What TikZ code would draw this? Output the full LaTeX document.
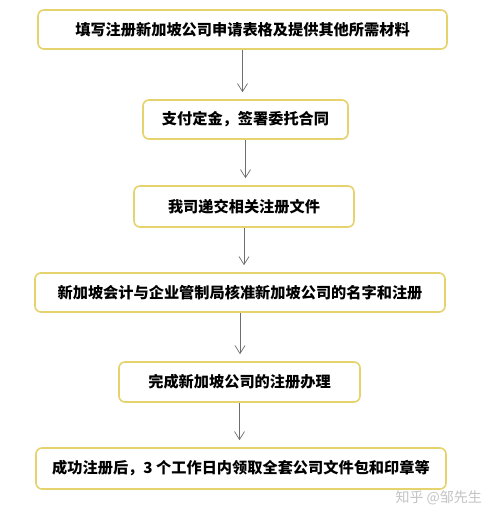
\documentclass[tikz,border=0pt]{standalone}
\usepackage{fontspec}
\setmainfont{Noto Sans CJK SC}
\usepackage{tikz}
\usetikzlibrary{arrows.meta}

\definecolor{boxline}{HTML}{E6D36E}
\definecolor{arrowgray}{HTML}{6E6E6E}
\definecolor{markgray}{HTML}{C4C4C4}

\begin{document}
\begin{tikzpicture}[x=1pt,y=-1pt,
        stepbox/.style={draw=boxline,line width=1.6pt,rounded corners=6pt,fill=white,
            inner sep=0pt,font=\fontsize{15.2}{18}\selectfont\bfseries},
        flow/.style={draw=arrowgray,line width=0.7pt,shorten >=7pt,
            -{Straight Barb[length=8pt,width=10pt,line width=0.7pt]}}]
        \useasboundingbox (0,0) rectangle (499,519);
        \fill[white] (0,0) rectangle (499,519);

        % the six steps
        \node[stepbox,minimum width=409pt,minimum height=39pt] (fill) at (242.5,29.5) {填写注册新加坡公司申请表格及提供其他所需材料};
        \node[stepbox,minimum width=205pt,minimum height=39pt] (pay) at (245.5,119.5) {支付定金，签署委托合同};
        \node[stepbox,minimum width=220pt,minimum height=41pt] (submit) at (244,206.5) {我司递交相关注册文件};
        \node[stepbox,minimum width=410pt,minimum height=39pt] (approve) at (240,292.5) {新加坡会计与企业管制局核准新加坡公司的名字和注册};
        \node[stepbox,minimum width=241pt,minimum height=40pt] (finish) at (239.5,382) {完成新加坡公司的注册办理};
        \node[stepbox,minimum width=410pt,minimum height=41pt] (collect) at (241,468.5) {成功注册后，3 个工作日内领取全套公司文件包和印章等};

        % arrows between steps
        \draw[flow] (fill.south) -- (fill.south |- pay.north);
        \draw[flow] (pay.south) -- (pay.south |- submit.north);
        \draw[flow] (submit.south) -- (submit.south |- approve.north);
        \draw[flow] (approve.south) -- (approve.south |- finish.north);
        \draw[flow] (finish.south) -- (finish.south |- collect.north);

        % watermark
        \node[text=markgray,font=\fontsize{14}{16}\selectfont,anchor=west] (mark) at (392,498) {知乎 @邹先生};
    \end{tikzpicture}
\end{document}
